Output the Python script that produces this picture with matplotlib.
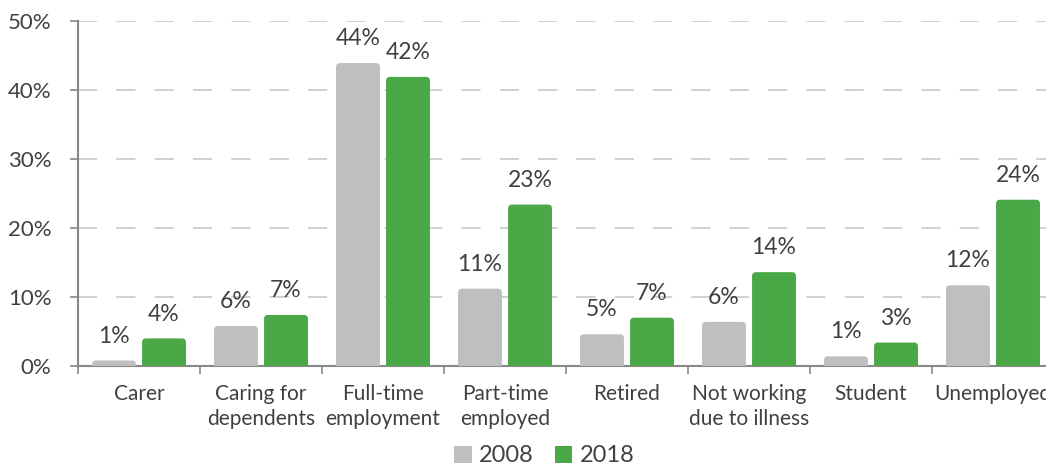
import matplotlib.pyplot as plt
from matplotlib.patches import FancyBboxPatch, Patch
from matplotlib.ticker import FixedLocator, PercentFormatter
import numpy as np

categories = ["Carer", "Caring for\ndependents", "Full-time\nemployment", "Part-time\nemployed",
              "Retired", "Not working\ndue to illness", "Student", "Unemployed"]
years = ["2008", "2018"]
share_2008 = [0.8, 5.8, 43.9, 11.2, 4.6, 6.4, 1.4, 11.7]
share_2018 = [4.0, 7.4, 41.9, 23.4, 7.0, 13.6, 3.4, 24.1]
colors = ["#bfbfbf", "#4aa846"]

plt.rcParams['font.family'] = ['Lato', 'DejaVu Sans']
text_color = "#404040"

fig = plt.figure(figsize=(10.46, 4.68), dpi=100)
ax = fig.add_axes([78 / 1046, 102 / 468, 976 / 1046, 345 / 468])

x = np.arange(len(categories))
width = 0.36
offset = 0.205
ax.set_xlim(-0.5, len(categories) - 0.5)
ax.set_ylim(0, 50)

# rounded tops: radius ~4px, aspect converts x-units to y-units
px_x = 1 / 122.0
px_y = 50 / 345.0
aspect = px_y / px_x

for vals, sign, col in zip([share_2008, share_2018], [-1, 1], colors):
    bars = ax.bar(x + sign * offset, vals, width, color=col)
    for b, v in zip(bars, vals):
        b.set_visible(False)
        r = 4 * px_x
        extra = 6 * px_y
        p = FancyBboxPatch((b.get_x(), -extra), b.get_width(), b.get_height() + extra,
                           boxstyle="round,pad=0,rounding_size=%f" % r,
                           mutation_aspect=aspect, facecolor=col, edgecolor="none", zorder=3)
        ax.add_patch(p)
        ax.annotate("%.0f%%" % v, (b.get_x() + b.get_width() / 2, v),
                    xytext=(0, 10), textcoords="offset points", ha="center", va="bottom",
                    fontsize=16.5, color=text_color)

ax.set_yticks(np.arange(0, 51, 10))
ax.yaxis.set_major_formatter(PercentFormatter(decimals=0))
ax.grid(axis="y", color="#c8c8c8", linewidth=1.2, linestyle=(0, (11.5, 11.5)), zorder=0)
ax.set_axisbelow(True)

ax.set_xticks(x)
ax.set_xticklabels(categories, linespacing=1.3)
ax.xaxis.set_minor_locator(FixedLocator(np.arange(-0.5, len(categories), 1)))
ax.tick_params(axis="x", which="major", length=0, pad=13, labelsize=15, colors=text_color)
ax.tick_params(axis="x", which="minor", length=6, width=1.2, color="#888888")
ax.tick_params(axis="y", length=6, width=1.2, color="#888888", labelsize=16,
               labelcolor=text_color, pad=13)

for s in ["top", "right"]:
    ax.spines[s].set_visible(False)
for s in ["left", "bottom"]:
    ax.spines[s].set_color("#888888")
    ax.spines[s].set_linewidth(1.5)

handles = [Patch(facecolor=c, edgecolor="none") for c in colors]
fig.legend(handles, years, loc="center", bbox_to_anchor=(544 / 1046, 1 - 456 / 468),
           ncol=2, frameon=False, fontsize=17, handlelength=0.75, handleheight=0.75,
           handletextpad=0.3, columnspacing=0.9, labelcolor=text_color)

fig.savefig("out.png", dpi=100)
